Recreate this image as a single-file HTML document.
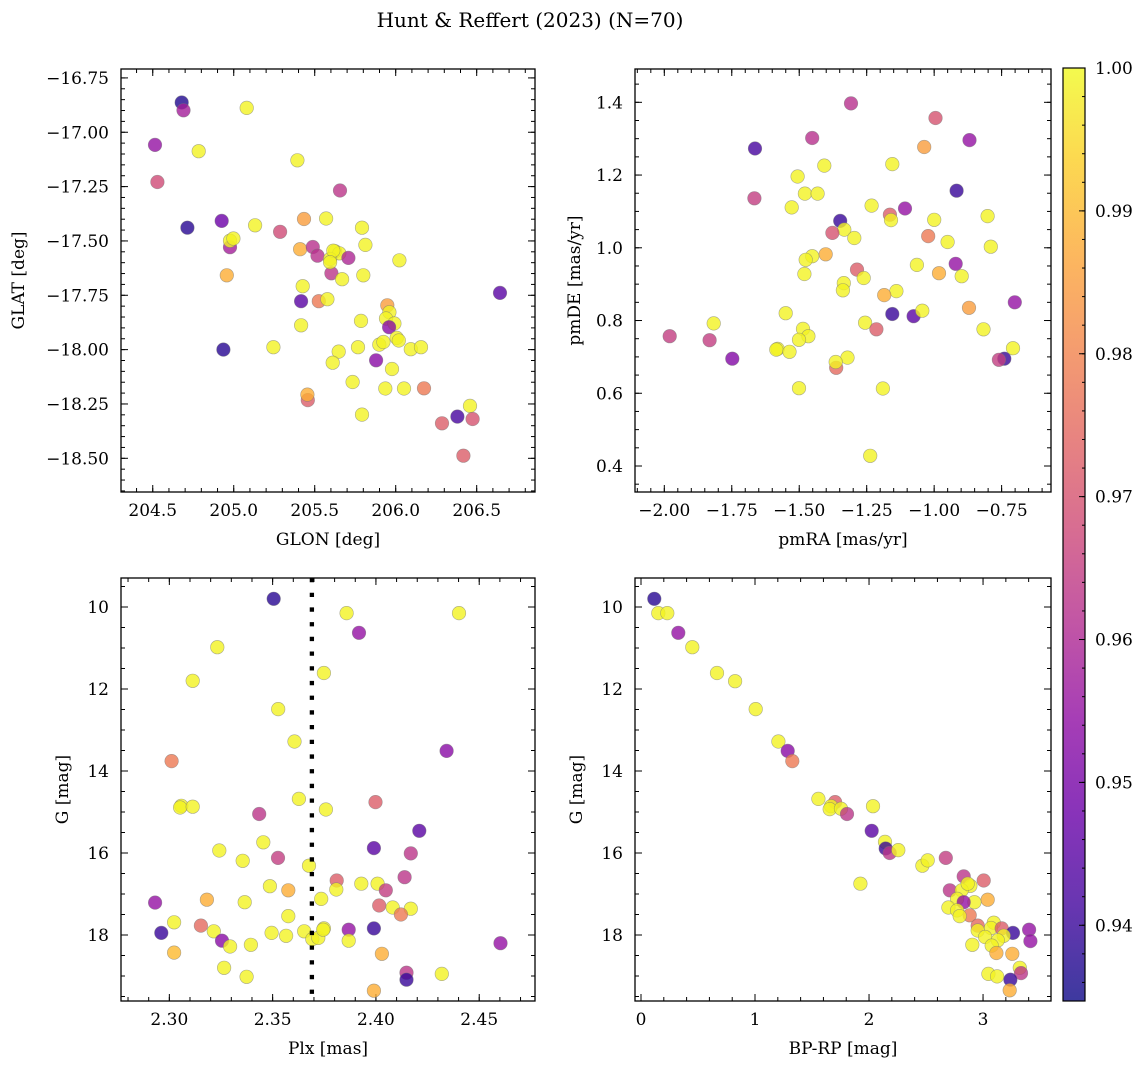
<!DOCTYPE html>
<html><head><meta charset="utf-8"><style>
html,body{margin:0;padding:0;background:#fff;}
svg{display:block;font-family:"DejaVu Serif","Liberation Serif",serif;}
</style></head><body>
<svg id="fig" width="1148" height="1068" viewBox="0 0 1148 1068" xmlns="http://www.w3.org/2000/svg">
<defs><linearGradient id="cbg" x1="0" y1="1" x2="0" y2="0">
<stop offset="0" stop-color="#0d0887"/><stop offset="0.1" stop-color="#41049d"/><stop offset="0.2" stop-color="#6a00a8"/><stop offset="0.3" stop-color="#8f0da4"/><stop offset="0.4" stop-color="#b12a90"/><stop offset="0.5" stop-color="#cc4778"/><stop offset="0.6" stop-color="#e16462"/><stop offset="0.7" stop-color="#f2844b"/><stop offset="0.8" stop-color="#fca636"/><stop offset="0.9" stop-color="#fcce25"/><stop offset="1" stop-color="#f0f921"/></linearGradient></defs>
<text x="530" y="27" font-size="20" text-anchor="middle">Hunt &amp; Reffert (2023) (N=70)</text>
</svg>
<script>
// ---------- data ----------
const glon=[204.679,204.690,205.080,204.514,204.784,205.393,204.529,205.656,204.714,204.926,205.132,205.286,205.434,205.570,205.792,204.977,204.977,204.998,205.410,205.488,205.517,205.626,205.652,205.595,205.708,205.813,206.023,204.957,205.603,205.669,205.800,205.426,205.416,205.525,205.578,206.644,205.948,205.961,205.940,205.992,205.786,205.416,205.959,204.936,205.245,205.767,205.648,205.899,205.924,206.006,206.019,206.093,206.156,205.611,205.879,205.977,205.734,205.936,206.051,206.175,205.457,205.455,205.792,206.459,206.381,206.286,206.475,206.418,205.615,205.595];
const glat=[-16.863,-16.899,-16.888,-17.058,-17.087,-17.129,-17.229,-17.268,-17.439,-17.408,-17.428,-17.458,-17.399,-17.397,-17.439,-17.529,-17.499,-17.489,-17.538,-17.528,-17.568,-17.548,-17.557,-17.583,-17.578,-17.518,-17.589,-17.658,-17.649,-17.676,-17.658,-17.708,-17.777,-17.777,-17.768,-17.739,-17.796,-17.828,-17.857,-17.880,-17.868,-17.888,-17.897,-18.000,-17.989,-17.989,-18.009,-17.977,-17.965,-17.946,-17.958,-17.998,-17.989,-18.060,-18.049,-18.089,-18.149,-18.179,-18.179,-18.178,-18.232,-18.207,-18.299,-18.259,-18.308,-18.339,-18.319,-18.488,-17.545,-17.598];
const probA=[0.937,0.958,0.999,0.955,0.999,0.999,0.968,0.963,0.938,0.948,0.999,0.968,0.985,0.999,0.999,0.958,0.999,0.999,0.988,0.962,0.962,0.999,0.999,0.999,0.960,0.999,0.999,0.988,0.963,0.999,0.999,0.999,0.945,0.978,0.999,0.945,0.985,0.999,0.999,0.999,0.999,0.999,0.953,0.938,0.999,0.999,0.999,0.999,0.999,0.999,0.999,0.999,0.999,0.999,0.953,0.999,0.999,0.999,0.999,0.978,0.972,0.988,0.999,0.999,0.942,0.972,0.970,0.972,0.999,0.999];

const pmra=[-1.308,-0.995,-1.452,-0.869,-1.664,-1.037,-1.407,-1.155,-1.506,-1.479,-1.432,-1.666,-0.917,-1.528,-1.232,-1.108,-1.164,-1.160,-1.348,-1.333,-1.377,-1.296,-1.000,-0.802,-1.022,-0.950,-0.790,-1.402,-1.452,-1.476,-1.064,-0.920,-1.286,-1.261,-1.481,-0.982,-0.898,-1.335,-1.338,-1.140,-1.185,-0.701,-0.871,-1.550,-1.155,-1.076,-1.044,-1.817,-1.980,-1.832,-1.486,-1.466,-1.501,-1.256,-1.214,-0.817,-1.580,-1.585,-1.536,-1.748,-1.321,-1.363,-1.365,-0.708,-0.740,-0.760,-1.501,-1.190,-1.237];
const pmde=[1.397,1.357,1.302,1.296,1.273,1.277,1.226,1.230,1.196,1.149,1.149,1.136,1.157,1.111,1.116,1.108,1.091,1.076,1.074,1.050,1.041,1.027,1.077,1.087,1.032,1.016,1.003,0.982,0.977,0.967,0.953,0.956,0.940,0.917,0.928,0.930,0.922,0.903,0.883,0.881,0.870,0.850,0.835,0.820,0.818,0.812,0.827,0.792,0.757,0.746,0.777,0.757,0.747,0.794,0.776,0.776,0.722,0.720,0.714,0.695,0.698,0.670,0.686,0.724,0.695,0.692,0.614,0.613,0.428];
const probB=[0.962,0.970,0.962,0.955,0.942,0.985,0.999,0.999,0.999,0.999,0.999,0.965,0.940,0.999,0.999,0.955,0.972,0.999,0.940,0.999,0.970,0.999,0.999,0.999,0.978,0.999,0.999,0.988,0.999,0.999,0.999,0.955,0.972,0.999,0.999,0.988,0.999,0.999,0.999,0.999,0.988,0.955,0.985,0.999,0.940,0.945,0.999,0.999,0.965,0.965,0.999,0.999,0.999,0.999,0.972,0.999,0.999,0.999,0.999,0.952,0.999,0.975,0.999,0.999,0.940,0.965,0.999,0.999,0.999];

const plx=[2.3505,2.3858,2.4402,2.3918,2.3232,2.3748,2.3113,2.3527,2.3606,2.4342,2.3011,2.3627,2.3058,2.3052,2.3113,2.3758,2.3435,2.3998,2.4210,2.3455,2.3990,2.3242,2.4169,2.3355,2.3526,2.3676,2.4139,2.3810,2.3929,2.4008,2.3808,2.4048,2.3487,2.3576,2.3182,2.3735,2.3365,2.2931,2.4016,2.4081,2.4169,2.4121,2.3576,2.3023,2.3153,2.2961,2.3215,2.3255,2.3294,2.3395,2.3495,2.3565,2.3653,2.3692,2.3721,2.3748,2.3745,2.3868,2.3868,2.3990,2.4029,2.3023,2.4603,2.3265,2.3374,2.4148,2.4148,2.4319,2.3990];
const gmagC=[9.80,10.15,10.15,10.63,10.98,11.61,11.80,12.49,13.28,13.51,13.76,14.68,14.85,14.89,14.87,14.94,15.05,14.76,15.46,15.74,15.88,15.94,16.01,16.19,16.12,16.31,16.59,16.67,16.75,16.75,16.89,16.91,16.81,16.91,17.14,17.12,17.20,17.21,17.28,17.33,17.36,17.50,17.54,17.69,17.77,17.95,17.91,18.14,18.28,18.24,17.95,18.02,17.91,18.10,18.07,17.84,17.87,17.87,18.14,17.84,18.46,18.43,18.20,18.80,19.02,18.92,19.09,18.95,19.36];
const probC=[0.938,0.999,0.999,0.955,0.999,0.999,0.999,0.999,0.999,0.953,0.978,0.999,0.999,0.999,0.999,0.999,0.963,0.972,0.945,0.999,0.945,0.999,0.963,0.999,0.965,0.999,0.963,0.972,0.999,0.999,0.999,0.965,0.999,0.988,0.988,0.999,0.999,0.955,0.972,0.999,0.999,0.978,0.999,0.999,0.975,0.940,0.999,0.953,0.999,0.999,0.999,0.999,0.999,0.999,0.999,0.999,0.999,0.955,0.999,0.940,0.988,0.990,0.955,0.999,0.999,0.963,0.940,0.999,0.988];
const plxCut=[2.369];

const bprp=[0.117,0.152,0.231,0.327,0.450,0.667,0.825,1.006,1.205,1.287,1.327,1.556,1.702,1.667,1.655,1.754,1.807,2.035,2.023,2.140,2.146,2.181,2.257,2.468,2.515,2.673,1.924,2.830,3.006,2.708,2.889,2.813,2.865,3.041,2.772,2.924,2.830,2.696,2.772,2.883,2.795,2.953,3.094,3.070,2.953,3.164,3.263,3.404,3.415,3.018,3.181,3.129,3.076,2.906,3.117,3.257,3.322,3.333,3.047,3.123,3.240,3.234];
const gmagD=[9.80,10.15,10.15,10.63,10.98,11.61,11.81,12.49,13.28,13.51,13.76,14.68,14.76,14.86,14.93,14.92,15.05,14.86,15.46,15.73,15.89,16.00,15.93,16.31,16.18,16.12,16.75,16.57,16.67,16.91,16.80,16.91,16.75,17.14,17.12,17.20,17.20,17.33,17.40,17.52,17.54,17.77,17.70,17.83,17.89,17.84,17.95,17.87,18.15,18.05,18.02,18.13,18.26,18.24,18.44,18.46,18.80,18.93,18.95,19.01,19.09,19.35];
const probD=[0.938,0.999,0.999,0.955,0.999,0.999,0.999,0.999,0.999,0.953,0.978,0.999,0.972,0.999,0.999,0.999,0.963,0.999,0.945,0.999,0.940,0.963,0.999,0.999,0.999,0.965,0.999,0.963,0.972,0.963,0.999,0.999,0.999,0.988,0.999,0.999,0.955,0.999,0.999,0.978,0.999,0.975,0.999,0.999,0.999,0.972,0.940,0.955,0.955,0.999,0.999,0.999,0.999,0.999,0.988,0.988,0.999,0.963,0.999,0.999,0.940,0.988];

const cbTicks=[0.94,0.95,0.96,0.97,0.98,0.99,1.00];
const VMIN=0.9347, VMAX=1.0;

// ---------- helpers ----------
const NS="http://www.w3.org/2000/svg";
const svg=document.getElementById('fig');
function mk(tag,attrs,parent){const e=document.createElementNS(NS,tag);for(const k in attrs)e.setAttribute(k,attrs[k]);(parent||svg).appendChild(e);return e;}
const stops=[[13,8,135],[65,4,157],[106,0,168],[143,13,164],[177,42,144],[204,71,120],[225,100,98],[242,132,75],[252,166,54],[252,206,37],[240,249,33]];
function plasma(v){let t=(v-VMIN)/(VMAX-VMIN);t=Math.max(0,Math.min(1,t))*10;const i=Math.min(9,Math.floor(t)),f=t-i;const a=stops[i],b=stops[i+1];return 'rgb('+a.map((c,k)=>Math.round(c+(b[k]-c)*f)).join(',')+')';}
function fmt(v,d){return (v<0?'\u2212':'')+Math.abs(v).toFixed(d);}

function panel(opt){
  const g=mk('g',{});
  
  
  const {x0,x1,y0,y1,xmin,xmax,ymin,ymax,yinv}=opt;
  const sx=v=>x0+(v-xmin)/(xmax-xmin)*(x1-x0);
  const sy=v=>yinv? y0+(v-ymin)/(ymax-ymin)*(y1-y0) : y1-(v-ymin)/(ymax-ymin)*(y1-y0);
  const tg=mk('g',{stroke:'#000','stroke-width':1},g);
  
  
  const eps=1e-9;
  function ticksX(step,len,labels,dec){
    const s=Math.ceil((xmin-eps)/step);
    for(let k=s;k*step<=xmax+eps;k++){const v=k*step,X=sx(v);
      mk('line',{x1:X,x2:X,y1:y1,y2:y1-len},tg);mk('line',{x1:X,x2:X,y1:y0,y2:y0+len},tg);
      if(labels){const t=mk('text',{x:X,y:y1+24,'font-size':17,'text-anchor':'middle',stroke:'none'},g);t.textContent=fmt(v,dec);
        }}
  }
  function ticksY(step,len,labels,dec){
    const s=Math.ceil((ymin-eps)/step);
    for(let k=s;k*step<=ymax+eps;k++){const v=k*step,Y=sy(v);
      mk('line',{x1:x0,x2:x0+len,y1:Y,y2:Y},tg);mk('line',{x1:x1,x2:x1-len,y1:Y,y2:Y},tg);
      if(labels){const t=mk('text',{x:x0-12,y:Y+6,'font-size':17,'text-anchor':'end',stroke:'none'},g);t.textContent=fmt(v,dec);
        }}
  }
  ticksX(opt.xminor,4,false);ticksX(opt.xmajor,7,true,opt.xdec);
  ticksY(opt.yminor,4,false);ticksY(opt.ymajor,7,true,opt.ydec);
  const pg=mk('g',{},g);
  
  
  opt.xs.forEach((xv,i)=>{
    const c=mk('circle',{cx:sx(xv).toFixed(1),cy:sy(opt.ys[i]).toFixed(1),r:6.8,fill:plasma(opt.ps[i]),'fill-opacity':0.8,stroke:'#777','stroke-opacity':0.6,'stroke-width':0.6},pg);
    
    
  });
  if(opt.vline){opt.vline.forEach(v=>{const l=mk('line',{x1:sx(v),x2:sx(v),y1:y0,y2:y1,stroke:'#000','stroke-width':4.3,'stroke-dasharray':'4.3 10.4'},g);
    });}
  const fr=mk('rect',{x:x0,y:y0,width:x1-x0,height:y1-y0,fill:'none',stroke:'#000','stroke-width':1.3},g);
  
  const xt=mk('text',{x:(x0+x1)/2,y:y1+53,'font-size':17,'text-anchor':'middle'},g);xt.textContent=opt.xlabel;
  
  const yx=opt.ylx,yc=(y0+y1)/2;
  const yt=mk('text',{x:yx,y:yc,'font-size':17,'text-anchor':'middle',transform:'rotate(-90 '+yx+' '+yc+')'},g);yt.textContent=opt.ylabel;
  
}

panel({name:'glon-glat-panel',x0:121,x1:535,y0:69,y1:492,xmin:204.304,xmax:206.86,ymin:-18.655,ymax:-16.709,xmajor:0.5,xminor:0.1,ymajor:0.25,yminor:0.05,xdec:1,ydec:2,xs:glon,ys:glat,ps:probA,xlabel:'GLON [deg]',ylabel:'GLAT [deg]',ylx:24});
panel({name:'proper-motion-panel',x0:635,x1:1051,y0:69,y1:492,xmin:-2.1086,xmax:-0.567,ymin:0.3285,ymax:1.4916,xmajor:0.25,xminor:0.05,ymajor:0.2,yminor:0.05,xdec:2,ydec:1,xs:pmra,ys:pmde,ps:probB,xlabel:'pmRA [mas/yr]',ylabel:'pmDE [mas/yr]',ylx:580});
panel({name:'parallax-mag-panel',x0:121,x1:535,y0:578,y1:1001,xmin:2.2766,xmax:2.4770,ymin:9.293,ymax:19.61,yinv:true,xmajor:0.05,xminor:0.01,ymajor:2,yminor:0.5,xdec:2,ydec:0,xs:plx,ys:gmagC,ps:probC,vline:plxCut,xlabel:'Plx [mas]',ylabel:'G [mag]',ylx:68});
panel({name:'cmd-panel',x0:635,x1:1051,y0:578,y1:1001,xmin:-0.0526,xmax:3.596,ymin:9.293,ymax:19.61,yinv:true,xmajor:1,xminor:0.2,ymajor:2,yminor:0.5,xdec:0,ydec:0,xs:bprp,ys:gmagD,ps:probD,xlabel:'BP-RP [mag]',ylabel:'G [mag]',ylx:582});

// colorbar
const cb=mk('g',{});


const cbx0=1063,cbx1=1085,cby0=68,cby1=1001;
mk('rect',{x:cbx0,y:cby0,width:cbx1-cbx0,height:cby1-cby0,fill:'url(#cbg)','fill-opacity':0.8,stroke:'#000','stroke-width':1.2},cb);
const cy=v=>cby1-(v-VMIN)/(VMAX-VMIN)*(cby1-cby0);
for(let k=Math.ceil(VMIN/0.002-1e-6);k*0.002<=VMAX+1e-9;k++){const Y=cy(k*0.002);mk('line',{x1:cbx1,x2:cbx1-3,y1:Y,y2:Y,stroke:'#000','stroke-width':1},cb);}
cbTicks.forEach(v=>{const Y=cy(v);mk('line',{x1:cbx1,x2:cbx1-6,y1:Y,y2:Y,stroke:'#000','stroke-width':1},cb);
  const t=mk('text',{x:cbx1+10,y:Y+6,'font-size':17},cb);t.textContent=v.toFixed(2);
  });
</script>
</body></html>
